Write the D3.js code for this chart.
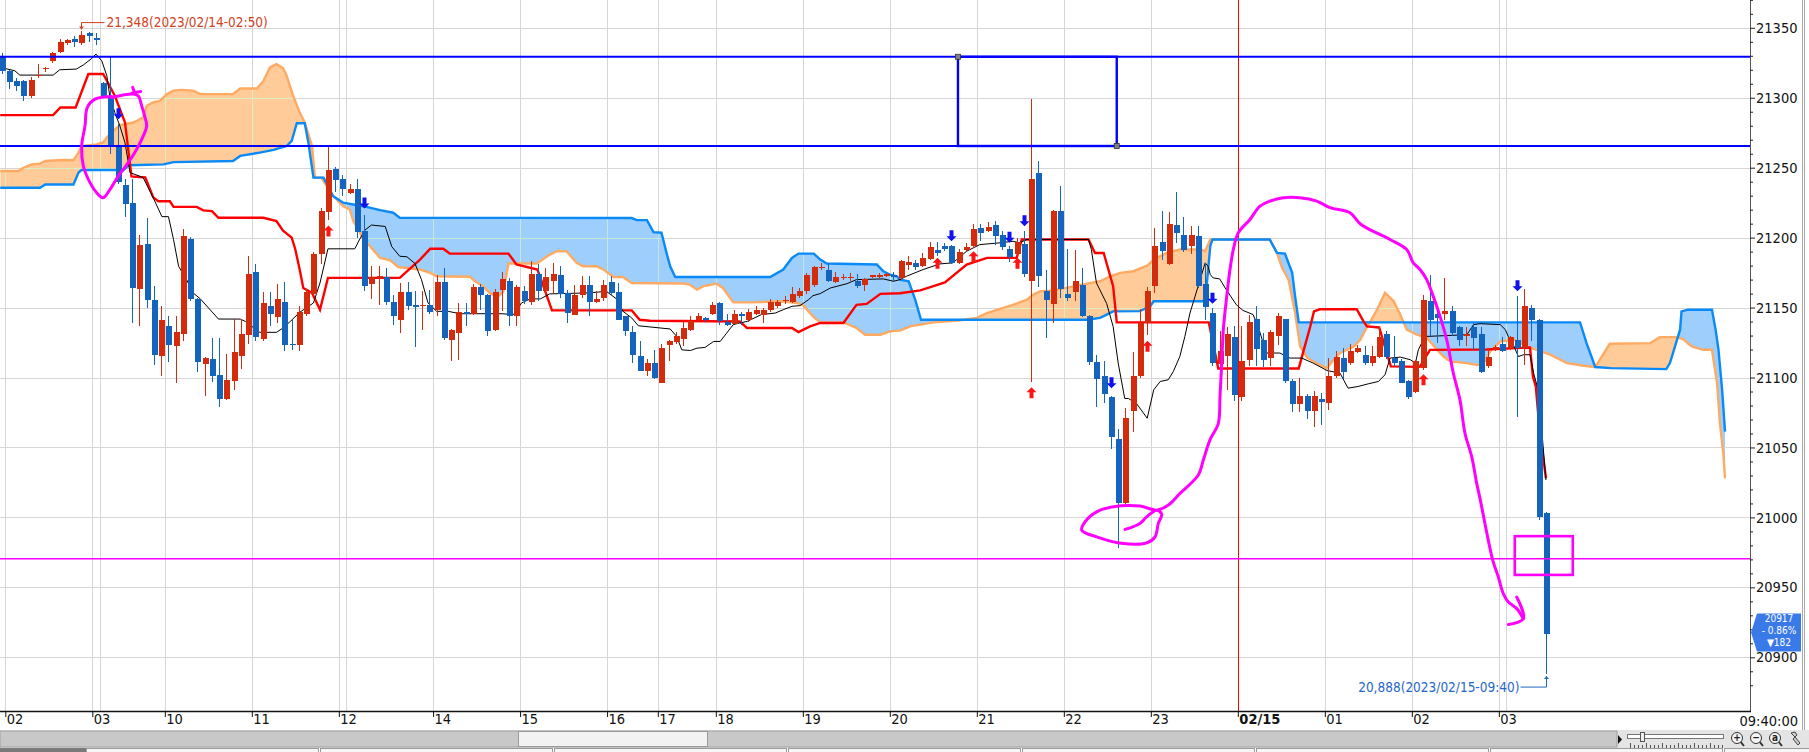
<!DOCTYPE html>
<html>
<head>
<meta charset="utf-8">
<script src="https://cdn.jsdelivr.net/npm/d3@7"></script>
<style>
  body { margin: 0; background: #fff; }
  svg { display: block; }
</style>
</head>
<body>
<svg id="chart"></svg>
<script>
// 5-minute candles, index 0 = first bar on screen. [open, high, low, close]
const ohlc = [
  [21329,21332,21317,21319],[21319,21320,21306,21311],[21312,21314,21305,21308.5],[21312,21313,21298,21301],
  [21301,21315,21300,21313],[21315.5,21324,21314,21316.5],[21320.5,21322,21318.5,21321.5],[21326,21333,21325,21332],
  [21333,21342,21332,21340],[21339,21342,21338,21341],[21342,21344,21336,21340],[21339,21348,21338,21345],
  [21346.3,21347,21340,21344],[21342.5,21346,21337.7,21341.5],[21310.4,21311,21300,21301.4],[21301.4,21329,21259.6,21265.5],
  [21265.5,21281,21238,21240],[21237.4,21241.7,21215,21224.2],[21225,21241.7,21139,21164],[21163.3,21202,21136.6,21194.4],
  [21195.8,21214,21150,21155.2],[21155.7,21165.7,21109,21116.3],[21115.6,21151,21101,21141.3],[21137,21144,21111,21123.4],
  [21122.7,21143.7,21096,21132.3],[21131,21206,21126,21201],[21198.7,21200.6,21155,21156.2],[21156.2,21157,21103.6,21110.8],
  [21110,21115,21087,21114],[21113.2,21128.2,21096.5,21101.2],[21102,21128,21079,21084.7],[21084.7,21116.8,21084,21098.4],
  [21097.8,21141.8,21091,21118.4],[21115.6,21141.8,21106,21131],[21130.6,21186.8,21124,21174.3],[21175.7,21181.5,21126,21128.9],
  [21127.7,21161,21126.3,21153.3],[21151.4,21161,21136.6,21145.1],[21143,21167,21139,21156.2],[21154.2,21168.4,21119.3,21123],
  [21124,21141,21120,21123],[21123,21151.4,21119.3,21147.1],[21145.6,21163,21144,21161],[21159.5,21190,21158,21188.6],
  [21188.6,21221,21181,21219],[21218,21265.5,21212.5,21248],[21249,21250.8,21232.6,21241],[21241.7,21245,21230,21235],
  [21232,21238,21231,21235],[21235,21241.7,21200,21204],[21204.6,21216.4,21162,21165.7],[21166.6,21179.5,21156,21172],
  [21171.5,21179.5,21152,21172.5],[21172,21178.4,21152,21154],[21154.2,21159.3,21137.3,21143.7],[21141.3,21167.6,21131.8,21161],
  [21161,21168,21148.5,21151.4],[21151.5,21161.6,21122,21150.5],[21151,21161.6,21134,21152],[21151.9,21162.8,21145.6,21146.9],
  [21148,21173,21144,21168.6],[21168.6,21178.4,21127,21128],[21126.6,21135,21112,21134.2],[21131.8,21153.3,21112.7,21147],
  [21146.5,21153.3,21136.6,21145.5],[21145.6,21167,21145,21164.5],[21164.5,21167,21148.5,21158.7],[21159.3,21160,21129.4,21133],
  [21133.7,21163,21133,21161],[21162.8,21175.2,21147.3,21170.7],[21169.3,21171,21136.6,21143.7],[21143.7,21166,21137,21164.5],
  [21162,21165.7,21152.8,21155],[21154,21183.2,21151.6,21174],[21174,21181.5,21155,21161.6],[21161.6,21178.4,21158,21171.6],
  [21168.8,21182,21160.5,21174],[21173.6,21179.5,21157,21160],[21160.5,21162.8,21139,21146],[21145,21166.4,21144.5,21158.8],
  [21158.8,21172.4,21157,21166.4],[21166,21172.4,21143.7,21154],[21154,21161.6,21153.5,21156.4],[21157,21169.5,21154.4,21166.4],
  [21168.4,21172.4,21159,21160.5],[21161,21167.6,21141,21141.3],[21143.7,21144,21129.4,21133],[21132.3,21136.6,21110.3,21116.3],
  [21115.6,21126.3,21104.5,21105],[21105,21113,21101.2,21110.3],[21110.3,21119.8,21098.9,21100],[21096.4,21124,21096,21121],
  [21123.4,21127,21111.5,21126],[21125.4,21132.3,21124.2,21129.4],[21127.7,21139.4,21122.2,21135.4],[21133.7,21144.2,21133,21140.6],
  [21140.8,21146.1,21140,21144],[21142.3,21143,21140,21141.3],[21145.6,21154,21145,21151.6],[21153.3,21154,21137.8,21140.1],
  [21139.4,21145.6,21136.6,21137.7],[21138.5,21148,21138,21145.6],[21145.6,21146.6,21137.8,21143.7],[21140.8,21149,21140,21146.9],
  [21145.6,21151,21145,21148.5],[21145,21150,21139,21148.5],[21148,21156,21147,21154],[21151,21155.7,21149.7,21154],
  [21154.7,21158,21152.8,21155.7],[21154,21164.5,21153.5,21159.8],[21158,21164,21157,21161.6],[21161.6,21174.8,21160,21173.6],
  [21166.4,21180,21165,21178.8],[21178.3,21182,21176.7,21179.3],[21177.2,21182,21168,21168.8],[21168,21175.2,21167.5,21171.6],
  [21171,21174.3,21170,21172],[21171,21175,21169,21172],[21168.8,21174.3,21164,21165.7],[21166,21171,21161.6,21170.5],
  [21172,21173.6,21171,21173],[21171.6,21174.5,21171,21173.6],[21172.8,21175,21172,21174],[21173.6,21175.2,21168.8,21171.6],
  [21171,21184,21170,21183],[21180.3,21186.7,21177.2,21182.4],[21182,21184.3,21177,21179],[21180,21189.1,21179,21185.5],
  [21185,21197,21184.3,21193.4],[21191.5,21196.7,21186.7,21189],[21194.3,21196.3,21190.3,21192.2],[21194.3,21195,21180.8,21182],
  [21182,21192,21181,21190],[21191,21196.3,21190.5,21193.4],[21194,21209.4,21192.7,21206.3],[21207,21209.4,21197.4,21203.5],
  [21204.6,21211.1,21204,21207.5],[21208.7,21211.8,21195,21201],[21202,21204.6,21191.5,21193.2],[21192.2,21194,21182.4,21186.3],
  [21188,21199.9,21187,21197],[21195.8,21204.6,21172,21174],[21168.8,21299,21097,21241.7],[21246.5,21254.8,21165,21172.9],
  [21161.6,21177,21128,21155.7],[21152.8,21220,21139,21219],[21219,21236.9,21156.9,21163.3],[21160,21192,21155,21157],
  [21161,21191.5,21154.4,21168.8],[21166.4,21178.4,21143,21143.7],[21144,21145,21109,21110.8],[21111,21116.3,21078.8,21098.9],
  [21100.8,21111.5,21081.6,21088.3],[21085.9,21087,21048.7,21057.7],[21055.9,21063,20977.8,21010],[21010,21078,21009,21071],
  [21076.4,21117.9,21061.3,21101.2],[21100.8,21149,21100,21139],[21139,21164.8,21130.6,21161.6],[21165.7,21207,21160.5,21194.3],
  [21197.2,21219,21184.3,21190.7],[21181.3,21218.2,21180.5,21209.4],[21209,21232.6,21196.3,21203],[21202.2,21214.6,21190,21191],
  [21193.9,21208.2,21188,21202.2],[21201.5,21208,21164,21165.7],[21167.1,21182,21141.3,21150.4],[21146,21149.5,21108,21110.3],
  [21109.8,21133,21108,21118.7],[21115.6,21136,21091,21131],[21128.7,21136.6,21083.5,21087.6],[21086.4,21136.6,21083.5,21112],
  [21112.7,21145,21108.4,21139.4],[21141.8,21151,21107.9,21120.3],[21126.6,21131.8,21107.5,21112.7],[21114,21134.2,21107.9,21132.3],
  [21129.9,21146,21123.4,21144],[21141.8,21142,21096.4,21097.2],[21097.2,21098.9,21075.6,21081.2],[21081.2,21099.6,21075.6,21086.7],
  [21086.7,21088,21070,21076.4],[21076.4,21090.7,21064.4,21086.7],[21085,21088.8,21066,21082.8],[21081.7,21113.9,21076.8,21100.8],
  [21100.8,21118.7,21100,21114.6],[21113.9,21121,21098.9,21103.6],[21110.7,21124.2,21109,21119.3],[21118.6,21123.5,21117.5,21121],
  [21116.4,21122.7,21109,21110.7],[21110.7,21122.7,21108,21115.6],[21115,21136,21114,21129],[21131.3,21133,21113,21115],
  [21114,21129.4,21108,21110.7],[21112,21113,21096,21096.4],[21097.2,21098,21085,21086.4],[21090,21112.5,21089,21111.5],
  [21106.8,21159.3,21105.5,21155.7],[21154.5,21173.6,21129.4,21140.8],[21145.6,21150.9,21124.6,21142.5],[21145.6,21171.2,21141.3,21147.3],
  [21147.3,21150.9,21130,21131.8],[21136,21137,21122.2,21126.5],[21129.9,21136,21122.2,21131.3],[21136,21139,21120,21128.2],
  [21131.3,21136,21103,21103.6],[21108.4,21121,21107,21114.6],[21120.5,21123,21119,21121.5],[21124,21128.9,21118.5,21119.3],
  [21121,21130,21120,21129],[21126.5,21158.5,21071.6,21121],[21121,21163.4,21109,21151.4],[21149.7,21152,21126,21140.8],
  [21140.8,21141.8,20998,21000],[21003,21003.6,20888,20917]
];

// x-axis: first bar of each hour and its label
const tickIdx    = [1, 13, 23, 35, 47, 60, 72, 84, 91, 99, 111, 123, 135, 147, 159, 171, 183, 195, 207];
const tickLabels = ['02','03','10','11','12','14','15','16','17','18','19','20','21','22','23','02/15','01','02','03'];
const sessionIdx = [14, 48, 208];

// indicator lines as [bar index, price] vertices
const redLine = [[-0.2,21287.6],[7.1,21287.6],[8.1,21293],[10.2,21293],[11.95,21317],[14,21317],[15.6,21301.4],[17,21282.5],[17.9,21243.8],[19.8,21243],[20.9,21228.8],[21.6,21226],[23.2,21226],[23.7,21222],[26.9,21222],[27.8,21219.5],[29,21219],[29.9,21214.2],[36.1,21214.2],[37.9,21211.8],[38.8,21205],[40,21200],[40.5,21191.5],[41.1,21177.2],[41.6,21164],[42.8,21160.5],[43.9,21148.5],[45,21171.2],[54.9,21171.2],[57.7,21184.3],[59.1,21192],[60.9,21192],[61.8,21188.6],[69.9,21188.6],[71,21180.8],[73.9,21177.2],[75.9,21148],[86.9,21148],[88,21141.3],[89.4,21140.6],[101.8,21140.1],[102.8,21135.4],[109,21135.4],[109.9,21132.5],[111.5,21136.6],[112.9,21139],[116.1,21139],[117.9,21152],[119.3,21152.6],[121.2,21159.8],[123.9,21160.2],[126.7,21162.3],[130.1,21168],[133.1,21180.8],[135.9,21185.5],[140,21185.5],[140.7,21198.7],[149.9,21198.7],[150.8,21189],[152,21189],[153.3,21165.3],[153.8,21139.4],[166.5,21139.4],[167.8,21106.5],[178.9,21106.5],[179.6,21119.8],[180.5,21136.6],[181,21147.3],[181.8,21148.8],[186.9,21148.8],[187.8,21140.5],[188.3,21136.5],[190,21135.8],[191.6,21108],[195.6,21107.6],[197,21119.8],[204.8,21120],[210.8,21121.5],[211.2,21100.7],[211.6,21093.6],[212.1,21063.7],[213,21028]];

const blackLine = [[-0.2,21321.7],[1.8,21319.3],[2.5,21316.2],[7.1,21316.2],[8,21320],[10.3,21320.5],[11.3,21323.6],[12.4,21328],[13,21331.2],[13.8,21326.4],[14.5,21315.7],[14.9,21301.4],[15.6,21289.4],[16.3,21279.9],[17,21268],[17.7,21246.5],[19.5,21243],[20.9,21228.5],[22.1,21215],[23,21215],[23.7,21198.7],[24.4,21179.5],[25.5,21170],[26.4,21160.5],[27.4,21156.2],[29.9,21141.8],[32.9,21141.8],[33.6,21140.1],[35.6,21132.3],[37.9,21132.3],[38.8,21135.4],[39.8,21140.1],[41.1,21146.6],[43,21153.3],[43.9,21167.6],[45,21192],[48.7,21192],[49.4,21199],[50.1,21205.4],[51,21209],[52.9,21208],[53.8,21193.6],[54.9,21186.7],[55.9,21186.3],[57,21181.5],[57.9,21170],[58.8,21153.3],[60,21147.3],[61.6,21147.3],[63.2,21145.6],[69,21145.6],[70.6,21145],[71.7,21153.3],[72.9,21156.2],[74.3,21156.2],[75.6,21159.8],[81,21160.5],[83.4,21161.6],[84.8,21156.2],[85.7,21147.3],[86.9,21142.6],[87.8,21137],[92.2,21134.7],[93.1,21129.4],[93.8,21119.8],[95,21119.3],[95.9,21121],[97,21121.5],[98.2,21125.8],[99.1,21125.8],[100,21131.8],[100.9,21137.8],[101.8,21139],[102.8,21140.1],[104.8,21145],[106.7,21146.1],[107.8,21148.5],[109,21150.9],[110.1,21151.4],[111.3,21155.7],[111.9,21158.5],[112.9,21160],[114.3,21164],[116.6,21167.1],[117.9,21170],[121.6,21170.5],[123,21168.8],[123.9,21170],[124.8,21172.4],[127.1,21177.2],[129.4,21181.2],[131.2,21182],[133.1,21190.3],[134.9,21195],[137.7,21196.3],[139.5,21197.4],[140.4,21196.3],[141.4,21198.7],[149.9,21198.7],[150.3,21191.5],[151,21167.6],[152.4,21153],[153.3,21136.5],[154,21110.3],[154.9,21085],[155.4,21085],[156.5,21081.6],[158,21070.9],[158.9,21091.2],[159.8,21097.2],[160.9,21098.4],[161.6,21104.3],[162.5,21115],[163.2,21129.4],[163.9,21146.1],[164.6,21158],[165.3,21170],[166,21182],[166.4,21179.5],[166.7,21173.6],[167.1,21171.2],[168,21170.5],[168.9,21162.8],[170.3,21152],[171.2,21148],[172.6,21145],[173.3,21136.6],[174,21124.6],[174.5,21117.5],[176.3,21117.5],[177.7,21113.9],[179.3,21113.9],[180.9,21110.3],[182.8,21105],[184.6,21103.1],[185.7,21092.4],[187.1,21093.6],[188.5,21095.5],[189.9,21097.2],[190.8,21102],[191.5,21113.9],[192.9,21114.6],[194.3,21112.7],[195,21110.3],[195.4,21119.8],[196.1,21127],[196.6,21129.4],[198.9,21129.9],[202.1,21130.6],[203,21137.8],[203.9,21138.5],[206.7,21137.8],[207.4,21134.2],[207.8,21129.4],[208.5,21123.4],[209.2,21115],[209.9,21116.3],[210.8,21116.3],[211.3,21103.1],[211.8,21093.6],[212.4,21063.7],[213,21026.7]];

const spanA = [[-0.2,21247.6],[2.3,21247.6],[3,21250],[4.1,21252.4],[5.3,21252.9],[6,21254.8],[8.3,21255.5],[9.9,21255.3],[10.6,21260.8],[11,21265.5],[13.1,21266.7],[14,21268],[14.5,21271.5],[15.4,21276.3],[16.3,21280.4],[18.2,21282.3],[19.5,21285.9],[20,21294.2],[20.9,21296.6],[21.8,21297.8],[22.8,21302.6],[23.7,21305],[24.8,21305.6],[26.4,21305],[27.4,21302.6],[31.9,21302.6],[32.9,21306.6],[35.2,21306.6],[36.1,21312],[37,21321.7],[37.9,21324],[38.8,21321.2],[39.3,21315.7],[40.2,21301.4],[41.1,21289.4],[41.8,21282.3],[42.8,21265.5],[43.2,21242.9],[44.1,21242.9],[45.7,21229.7],[46.2,21227.3],[47.1,21222.5],[48,21220.2],[48.5,21211.8],[49.2,21205.8],[49.9,21198.7],[50.8,21193.9],[52.2,21185.5],[53.6,21183.8],[54.7,21179],[57.7,21177.2],[59.1,21174.8],[60,21172.4],[64.6,21172],[65.3,21168.8],[66.4,21165.3],[67.4,21160],[68.5,21158],[69.2,21161.6],[69.9,21181.5],[73.8,21181.5],[75.6,21187.9],[76.6,21190.3],[77.9,21190.3],[79.3,21182],[80.2,21179.5],[82.1,21179.5],[83,21177.2],[84.4,21171.9],[85.7,21171.9],[86.9,21167.6],[94,21167.2],[94.9,21166.4],[95.9,21162.8],[96.8,21165.3],[98.6,21167.1],[99.5,21164],[100.9,21153.7],[103.2,21153.7],[107.8,21154.5],[109.7,21153.3],[110.6,21151.4],[111.9,21143.7],[112.9,21139.4],[116.1,21139.4],[117.9,21135.4],[119.1,21130.6],[121.2,21130.6],[122.5,21133],[123.9,21133.5],[125.3,21136.6],[128.5,21139.4],[132,21140.8],[134.5,21142.6],[135.9,21146.1],[137.7,21149],[139.5,21152],[141.4,21155.7],[142.3,21159.3],[143.2,21161.6],[145.1,21162.3],[149.7,21167.1],[151.5,21168.8],[152.9,21172.4],[154.3,21174.8],[156.1,21176],[158,21180],[158.9,21184.3],[160.7,21189.1],[162.5,21191.5],[165.3,21191.5],[166,21190.3],[166.7,21198.7],[174.9,21198.7],[175.9,21189.1],[176.6,21178.4],[177.5,21170],[178.4,21146.1],[179.1,21122.2],[180.1,21114],[181.8,21109],[182.8,21106.7],[183.7,21112.7],[184.6,21117.5],[186.5,21122.2],[187.4,21127],[188.1,21134.2],[188.8,21140.1],[189.7,21148.5],[190.8,21160.5],[192,21154.5],[192.9,21145],[193.8,21134.2],[195.2,21130.6],[196.6,21128.2],[198,21119.8],[198.9,21115],[199.8,21111.5],[202.1,21110.3],[203.5,21109],[204.4,21110.3],[205.3,21118.6],[206.7,21125.8],[208.6,21127],[210.4,21122.2],[211.7,21119.8],[213.6,21116.3],[215.9,21110.3],[218.2,21108.4],[219.8,21107.5],[221.8,21124.1],[227.4,21124.6],[228.7,21128.9],[231,21128.9],[231.9,21127.5],[233.1,21122.2],[234.7,21119.8],[235.9,21119.8],[236.6,21096],[237,21067.3],[237.5,21043.4],[237.7,21027.9]];

const spanB = [[-0.2,21235.7],[5.3,21235.7],[6,21238],[9.9,21238],[10.6,21246.5],[11,21248.3],[16.8,21248.3],[17.5,21251.7],[22.3,21252.4],[23.7,21254],[31.9,21254.8],[32.9,21258.4],[35.6,21260.8],[37.5,21262.7],[39.3,21265.5],[40,21269.1],[40.7,21281.8],[41.8,21281.8],[42.3,21268],[43,21242.9],[44.4,21242.9],[45.7,21229.7],[47.1,21225],[48.5,21223.7],[50.3,21222],[52.2,21219.7],[54,21217.8],[54.9,21214.2],[86.9,21214],[87.6,21212.5],[89,21212.5],[89.9,21203.9],[91,21203.5],[91.7,21189.1],[92.2,21179.5],[92.9,21171.9],[106,21171.9],[107.8,21177.2],[109,21185.5],[109.9,21188.6],[112,21188.6],[112.9,21184.3],[113.8,21181.5],[120.7,21180.8],[121.6,21176],[122.5,21173.6],[123.5,21172.4],[123.9,21170],[125.1,21168.8],[126,21155.7],[126.8,21141.3],[149.7,21141.3],[151.5,21142.6],[152.4,21145],[153.3,21147.3],[157,21147.5],[158.4,21150.9],[158.9,21154.5],[165.8,21154.5],[166.2,21165.3],[166.7,21194],[167,21198.7],[174.9,21198.7],[175.9,21189.1],[177,21188.6],[178,21174.8],[178.4,21158],[178.9,21139.4],[217.7,21139.4],[218.6,21124.6],[219.8,21107.5],[222,21106.7],[229.6,21106],[230.1,21110.3],[230.8,21122.2],[231.5,21134.2],[231.7,21147.3],[232.6,21148.5],[235.9,21148.5],[236.4,21134.2],[236.8,21119.8],[237.3,21091.2],[237.7,21061.3]];

// signal arrows [bar index, price at arrow tip]
const buySignals  = [[45,21208.6],[129,21185.6],[134,21190.3],[140,21185.6],[142,21093.1],[158,21126.3],[196,21102.4]];
const sellSignals = [[16,21284.6],[50,21220.9],[131,21197.5],[139,21196.3],[141,21208.2],[153,21092.4],[167,21152.8],[209,21161.6]];

// drawing objects
const blueLevels = [21329.3, 21265.5];
const blueBox = [131.9, 153.8, 21329.3, 21265.5];
const magentaLevel = 20970.5;
const magentaBox = [208.7, 216.7, 20986.6, 20958.9];
const scribbleA = [[15.17,21300.2],[18.15,21302.6],[18.84,21301.3],[19.31,21294.2],[19.77,21285.9],[20,21279.9],[19.53,21272.7],[18.62,21263.2],[17.46,21253.6],[16.08,21244],[14.94,21234.5],[14.01,21228.5],[13.1,21232.1],[12.18,21239.3],[11.26,21251.2],[11.03,21265.5],[11.49,21279.9],[11.8,21293],[12.87,21299],[15.17,21300.9]];
const scribbleA2 = [[[18.07,21307.4],[18.39,21302.6]],[[17.93,21303.3],[19.17,21304.5]]];
const scribbleB = [[154.94,20991.4],[157,20995.7],[157.93,21000.4],[159.31,21005.2],[160,21002.3],[159.53,20995.7],[159.08,20986.1],[157.93,20981.8],[154.7,20981.3],[151.03,20986.1],[148.97,20990.9],[149.42,20996.8],[151.03,21004],[153.32,21007.6],[157.01,21008.1],[159.31,21005.2],[160.91,21008.8],[162.52,21017.2],[165.05,21030.3],[165.74,21041],[166.66,21055.4],[167.81,21067.3],[168.04,21086.4],[168.28,21110.3],[168.5,21134.2],[168.97,21158],[169.42,21177.2],[169.88,21191.5],[170.57,21203.5],[172.18,21213],[173.56,21222.5],[174.94,21226.1],[176.77,21228.5],[179.08,21228.5],[181.38,21226.1],[183.21,21221.4],[185.97,21217.8],[187.49,21209.4],[191.49,21198.7],[193.79,21191.5],[194.7,21182],[195.63,21177.2],[196.55,21170],[197.46,21158],[198.39,21143.7],[199.31,21127],[200.22,21103.2],[201.14,21084],[201.83,21060.2],[202.76,21043.4],[203.45,21024.3],[203.9,21013.6],[205.66,20969.4],[206.43,20957.4],[207.12,20945.5],[207.81,20939.5],[208.97,20934.8],[209.88,20927.6]];
const scribbleB2 = [[[208.97,20943.1],[209.88,20927.6],[207.81,20923.4]]];

const highLabel = '21,348(2023/02/14-02:50)';
const lowLabel  = '20,888(2023/02/15-09:40)';
const lastTime  = '09:40:00';
const badgeText = ['20917', '- 0.86%', '\u25BC182'];

// ---------------------------------------------------------------
const W = 1809, H = 752;
const plotRight = 1750, axisY = 711;
const FONT = '"Liberation Sans Narrow","DejaVu Sans Condensed","Arial Narrow",sans-serif';
const RED = '#d22c0c', BLUE = '#1464be';

const svg = d3.select('#chart')
    .attr('width', W).attr('height', H)
    .attr('viewBox', [0, 0, W, H]);

svg.append('rect').attr('width', W).attr('height', H).attr('fill', '#fff');

// SCALES
const x = d3.scaleLinear().domain([0, 213]).range([1.7, 1.7 + 213 * 7.25]);
const y = d3.scaleLinear().domain([20900, 21350]).range([657.3, 27.8]);
const px = v => Math.round(v) + 0.5;

// DRAWING TOOLS
const line = d3.line().x(d => x(d[0])).y(d => y(d[1]));
const areaAbove = d3.area().x(d => x(d[0])).y0(0).y1(d => y(d[1]));
const areaBelow = d3.area().x(d => x(d[0])).y0(axisY).y1(d => y(d[1]));

const defs = svg.append('defs');
defs.append('clipPath').attr('id', 'plot')
    .append('rect').attr('x', 0).attr('y', 0).attr('width', plotRight).attr('height', axisY);
defs.append('clipPath').attr('id', 'belowA').append('path').attr('d', areaBelow(spanA));
defs.append('clipPath').attr('id', 'belowB').append('path').attr('d', areaBelow(spanB));
defs.append('clipPath').attr('id', 'aboveA').append('path').attr('d', areaAbove(spanA));
defs.append('clipPath').attr('id', 'aboveB').append('path').attr('d', areaAbove(spanB));

const plot = svg.append('g').attr('clip-path', 'url(#plot)');

// grid
const gridY = d3.range(20900, 21351, 50);
const gridX = tickIdx.concat(sessionIdx).map(i => x(i - 0.5));
function drawGrid(g, colour) {
    g.selectAll('.gh').data(gridY).join('line').attr('class', 'gh')
        .attr('x1', 0).attr('x2', plotRight)
        .attr('y1', d => px(y(d))).attr('y2', d => px(y(d)))
        .attr('stroke', colour);
    g.selectAll('.gv').data(gridX).join('line').attr('class', 'gv')
        .attr('x1', d => px(d)).attr('x2', d => px(d))
        .attr('y1', 0).attr('y2', axisY)
        .attr('stroke', colour);
}
drawGrid(plot.append('g'), '#d6d6d6');

// cloud fills
plot.append('g').attr('clip-path', 'url(#belowA)')
    .append('path').attr('d', areaAbove(spanB)).attr('fill', '#ffcc99');
plot.append('g').attr('clip-path', 'url(#belowB)')
    .append('path').attr('d', areaAbove(spanA)).attr('fill', '#9dcefc');
// grid seen through the cloud
drawGrid(plot.append('g').attr('clip-path', 'url(#belowA)')
    .append('g').attr('clip-path', 'url(#aboveB)'), '#dcefc0');
drawGrid(plot.append('g').attr('clip-path', 'url(#belowB)')
    .append('g').attr('clip-path', 'url(#aboveA)'), '#c4e8d8');

// date change line
plot.append('line')
    .attr('x1', px(x(171 - 0.5))).attr('x2', px(x(171 - 0.5)))
    .attr('y1', 0).attr('y2', axisY)
    .attr('stroke', '#ff0000').attr('stroke-width', 1);

// cloud edges
plot.append('path').datum(spanA).attr('d', line)
    .attr('fill', 'none').attr('stroke', '#ffaa62').attr('stroke-width', 2.4);
plot.append('path').datum(spanB).attr('d', line)
    .attr('fill', 'none').attr('stroke', '#0a8af6').attr('stroke-width', 2.4);

// red and black lines
plot.append('path').datum(redLine).attr('d', line)
    .attr('fill', 'none').attr('stroke', '#ff0000').attr('stroke-width', 2.4);
plot.append('path').datum(blackLine).attr('d', line)
    .attr('fill', 'none').attr('stroke', '#000').attr('stroke-width', 1);

// candles
const bars = plot.append('g').attr('shape-rendering', 'crispEdges')
    .selectAll('g').data(ohlc).join('g')
    .attr('fill', d => d[3] >= d[0] ? RED : BLUE)
    .attr('stroke', d => d[3] >= d[0] ? RED : BLUE);
bars.append('line')
    .attr('x1', (d, i) => px(x(i))).attr('x2', (d, i) => px(x(i)))
    .attr('y1', d => y(d[1])).attr('y2', d => y(d[2]))
    .attr('stroke-width', 1);
bars.append('rect')
    .attr('stroke', 'none')
    .attr('x', (d, i) => Math.round(x(i)) - 2)
    .attr('width', 6)
    .attr('y', d => y(Math.max(d[0], d[3])))
    .attr('height', d => Math.max(1.5, Math.abs(y(d[0]) - y(d[3]))));

// signals
const upArrow = 'M0,0 L5,5 L2,5 L2,11 L-2,11 L-2,5 L-5,5 Z';
const downArrow = 'M0,0 L5,-5 L2,-5 L2,-11 L-2,-11 L-2,-5 L-5,-5 Z';
plot.append('g').selectAll('path').data(buySignals).join('path')
    .attr('d', upArrow).attr('fill', '#ff1414')
    .attr('transform', d => `translate(${Math.round(x(d[0])) + 0.5},${y(d[1])})`);
plot.append('g').selectAll('path').data(sellSignals).join('path')
    .attr('d', downArrow).attr('fill', '#1010f0')
    .attr('transform', d => `translate(${Math.round(x(d[0])) + 0.5},${y(d[1])})`);

// drawing objects
plot.append('g').selectAll('line').data(blueLevels).join('line')
    .attr('x1', 0).attr('x2', plotRight)
    .attr('y1', d => y(d)).attr('y2', d => y(d))
    .attr('stroke', '#0000ff').attr('stroke-width', 2.2);
plot.append('rect')
    .attr('x', x(blueBox[0])).attr('y', y(blueBox[2]))
    .attr('width', x(blueBox[1]) - x(blueBox[0]))
    .attr('height', y(blueBox[3]) - y(blueBox[2]))
    .attr('fill', 'none').attr('stroke', '#0000ff').attr('stroke-width', 2.4);
plot.append('g').selectAll('rect')
    .data([[blueBox[0], blueBox[2]], [blueBox[1], blueBox[3]]]).join('rect')
    .attr('x', d => x(d[0]) - 2.5).attr('y', d => y(d[1]) - 2.5)
    .attr('width', 5).attr('height', 5)
    .attr('fill', '#808080').attr('stroke', '#333').attr('stroke-width', 0.8);

plot.append('line')
    .attr('x1', 0).attr('x2', plotRight)
    .attr('y1', y(magentaLevel)).attr('y2', y(magentaLevel))
    .attr('stroke', '#ff00ff').attr('stroke-width', 1.6);
plot.append('rect')
    .attr('x', x(magentaBox[0])).attr('y', y(magentaBox[2]))
    .attr('width', x(magentaBox[1]) - x(magentaBox[0]))
    .attr('height', y(magentaBox[3]) - y(magentaBox[2]))
    .attr('fill', 'none').attr('stroke', '#ff00ff').attr('stroke-width', 2.6);

const scribble = d3.line().curve(d3.curveCatmullRom).x(d => x(d[0])).y(d => y(d[1]));
plot.append('g').selectAll('path')
    .data([scribbleA, scribbleB].concat(scribbleA2, scribbleB2)).join('path')
    .attr('d', scribble)
    .attr('fill', 'none').attr('stroke', '#ff00ff').attr('stroke-width', 3)
    .attr('stroke-linejoin', 'round').attr('stroke-linecap', 'round');

// high / low labels
const hiIdx = d3.maxIndex(ohlc, d => d[1]);
const loIdx = d3.minIndex(ohlc, d => d[2]);
const hiX = px(x(hiIdx)), hiY = y(ohlc[hiIdx][1]);
const loX = px(x(loIdx)), loY = y(ohlc[loIdx][2]);
const hiRed = '#d2401c', loBlue = '#1f66c8';

plot.append('path')
    .attr('d', `M${hiX},${hiY - 1} V${hiY - 8} H${hiX + 23}`)
    .attr('fill', 'none').attr('stroke', hiRed).attr('stroke-width', 1);
plot.append('path')
    .attr('d', `M${hiX},${hiY - 1} l-2.5,-3 h5 Z`).attr('fill', hiRed);
plot.append('text')
    .attr('x', hiX + 25).attr('y', hiY - 8).attr('dy', '0.35em')
    .attr('font-family', FONT).attr('font-size', 13.5).attr('fill', hiRed)
    .text(highLabel);

plot.append('path')
    .attr('d', `M${loX},${loY + 2} V${loY + 13} H${loX - 26}`)
    .attr('fill', 'none').attr('stroke', loBlue).attr('stroke-width', 1);
plot.append('path')
    .attr('d', `M${loX},${loY + 2} l-2.5,3 h5 Z`).attr('fill', loBlue);
plot.append('text')
    .attr('x', loX - 27).attr('y', loY + 13).attr('dy', '0.35em')
    .attr('text-anchor', 'end')
    .attr('font-family', FONT).attr('font-size', 13.5).attr('fill', loBlue)
    .text(lowLabel);

// AXES
// right price axis
svg.append('line')
    .attr('x1', plotRight + 0.5).attr('x2', plotRight + 0.5)
    .attr('y1', 0).attr('y2', axisY)
    .attr('stroke', '#555');
const yx = g => g
    .attr('transform', `translate(${plotRight},0)`)
    .call(d3.axisRight(y)
        .tickValues(d3.range(20880, 21371, 10))
        .tickSize(5).tickPadding(1)
        .tickFormat(d => d % 50 === 0 ? d : ''))
    .call(g => g.select('.domain').remove())
    .call(g => g.selectAll('.tick line')
        .attr('stroke', '#222')
        .attr('x2', d => d % 50 === 0 ? 5 : 3))
    .call(g => g.selectAll('.tick text')
        .attr('font-family', FONT).attr('font-size', 14.5).attr('fill', '#111'));
svg.append('g').call(yx);

// bottom time axis
svg.append('line')
    .attr('x1', 0).attr('x2', plotRight + 1)
    .attr('y1', axisY + 0.5).attr('y2', axisY + 0.5)
    .attr('stroke', '#111').attr('stroke-width', 1.5);
const xx = g => g
    .attr('transform', `translate(0,${axisY})`)
    .call(d3.axisBottom(x)
        .tickValues(tickIdx.map(i => i - 0.5))
        .tickSize(6)
        .tickFormat((d, k) => tickLabels[k]))
    .call(g => g.select('.domain').remove())
    .call(g => g.selectAll('.tick line').attr('stroke', '#111'))
    .call(g => g.selectAll('.tick text')
        .attr('text-anchor', 'start').attr('x', 1).attr('y', 3)
        .attr('font-family', FONT).attr('font-size', 14.5).attr('fill', '#111')
        .attr('font-weight', (d, k) => tickLabels[k].includes('/') ? 'bold' : 'normal'));
svg.append('g').call(xx);

svg.append('text')
    .attr('x', 1798).attr('y', 726)
    .attr('text-anchor', 'end')
    .attr('font-family', FONT).attr('font-size', 14.5).attr('fill', '#111')
    .text(lastTime);

// last price badge (drawn over the price labels)
const last = ohlc[ohlc.length - 1];
const by = y(last[3]);
svg.append('path')
    .attr('d', `M${plotRight + 1},${by - 1} L${plotRight + 7},${by - 20} H${plotRight + 51} V${by + 18} H${plotRight + 7} Z`)
    .attr('fill', '#3a7ae8');
svg.append('g').selectAll('text').data(badgeText).join('text')
    .attr('x', plotRight + 29)
    .attr('y', (d, k) => by - 11.1 + k * 11.7)
    .attr('text-anchor', 'middle')
    .attr('font-family', FONT).attr('font-size', 10).attr('fill', '#fff')
    .text(d => d);

// right edge separator
svg.append('g').selectAll('line').data([1802.5, 1804.5]).join('line')
    .attr('x1', d => d).attr('x2', d => d)
    .attr('y1', 0).attr('y2', 730)
    .attr('stroke', '#a8a8a8');

// scrollbar and zoom controls
const sb = svg.append('g');
sb.append('rect').attr('x', 0).attr('y', 730).attr('width', W).attr('height', 18).attr('fill', '#e4e4e4');
sb.append('rect').attr('x', 0).attr('y', 731).attr('width', 1617).attr('height', 16)
    .attr('fill', '#c8c8c8').attr('stroke', '#a0a0a0');
sb.append('rect').attr('x', 518.5).attr('y', 731.5).attr('width', 189).attr('height', 15)
    .attr('fill', '#f2f2f2').attr('stroke', '#9a9a9a');
sb.append('path').attr('d', 'M1618,735 L1622,739.5 L1618,744 Z').attr('fill', '#111');
sb.append('rect').attr('x', 1627.5).attr('y', 734.5).attr('width', 96).attr('height', 4)
    .attr('fill', '#fff').attr('stroke', '#777');
sb.append('rect').attr('x', 1640.5).attr('y', 732.5).attr('width', 4).attr('height', 9)
    .attr('fill', '#eee').attr('stroke', '#555');
sb.append('g').selectAll('line').data(d3.range(1630, 1724, 4)).join('line')
    .attr('x1', d => d + 0.5).attr('x2', d => d + 0.5)
    .attr('y1', (d, k) => k % 4 === 0 ? 743 : 745).attr('y2', 748)
    .attr('stroke', '#555');
const icons = ['+', '\u2212', 'a'];
sb.append('g').selectAll('g').data(icons).join('g')
    .attr('transform', (d, k) => `translate(${1737 + k * 19},738)`)
    .call(g => g.append('line').attr('x1', 3).attr('y1', 3).attr('x2', 7).attr('y2', 8)
        .attr('stroke', '#333').attr('stroke-width', 2))
    .call(g => g.append('circle').attr('r', 5.5).attr('fill', '#f4f4f4').attr('stroke', '#333'))
    .call(g => g.append('text').attr('text-anchor', 'middle').attr('dy', '0.33em')
        .attr('font-family', FONT).attr('font-size', 10).attr('font-weight', 'bold').attr('fill', '#222')
        .text(d => d));
sb.append('path').attr('d', 'M1791,733 l4,4 l-2,2 l5,6 l2,-2 l-5,-6 l2,-2 l-2,-3 Z')
    .attr('fill', '#ccc').attr('stroke', '#444');

// bottom tabs
sb.append('rect').attr('x', 0).attr('y', 748).attr('width', 86).attr('height', 4).attr('fill', '#7a7a7a');
sb.append('g').selectAll('rect').data(d3.range(86, W, 234)).join('rect')
    .attr('x', d => d + 0.5).attr('y', 748.5).attr('width', 232).attr('height', 5)
    .attr('fill', '#f6f6f6').attr('stroke', '#9a9a9a');
</script>
</body>
</html>
